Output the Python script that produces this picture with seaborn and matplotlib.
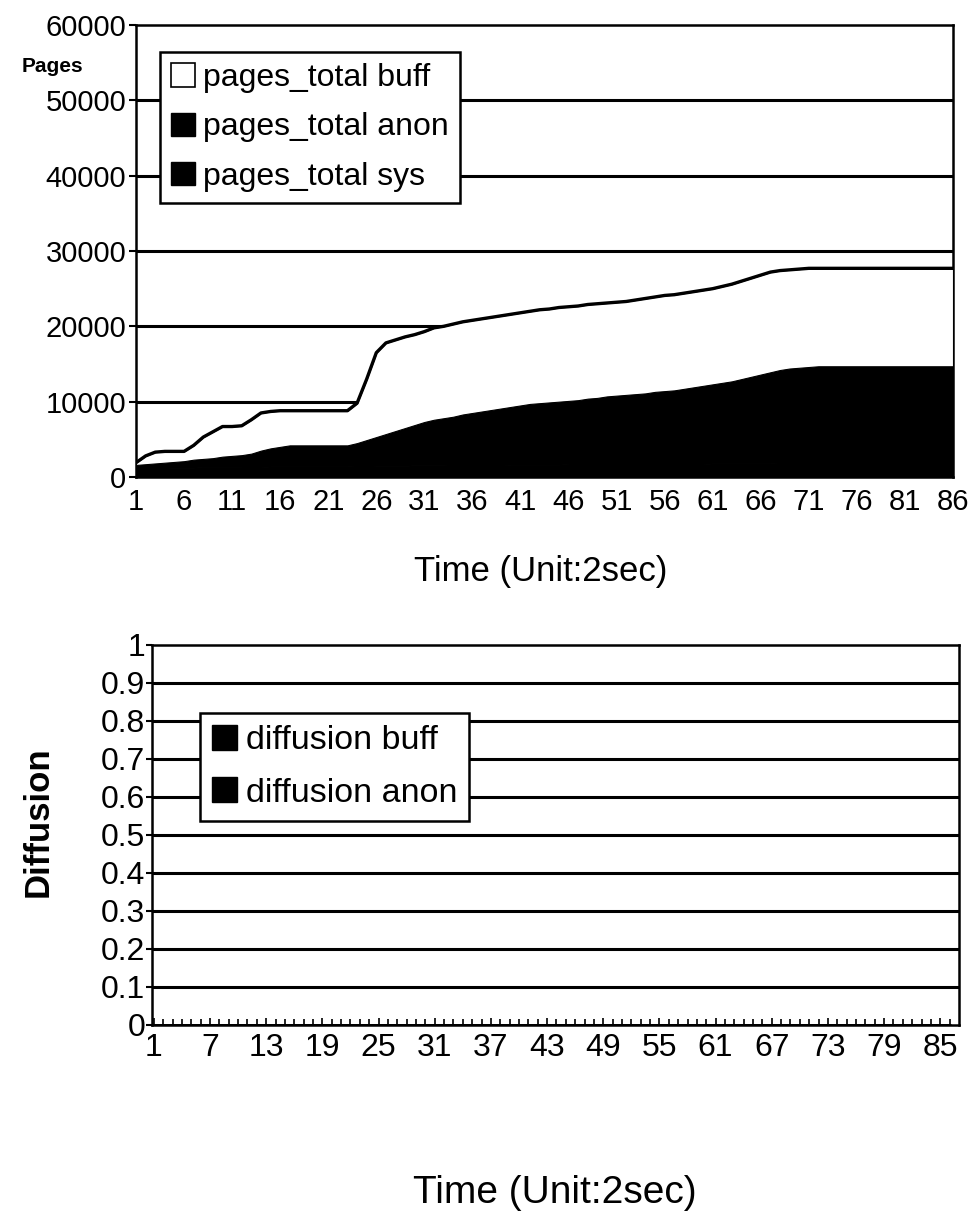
import matplotlib
matplotlib.use("Agg")
import matplotlib.pyplot as plt
import seaborn as sns
import pandas as pd
from matplotlib.patches import Patch
from matplotlib.ticker import FixedLocator

# ---------------- data ----------------
time = list(range(1, 87))

pages_sys = [1200, 1200, 1200, 1200, 1250, 1250, 1250, 1300, 1300, 1300,
             1300, 1300, 1350, 1350, 1400, 1400, 1400, 1400, 1400, 1400,
             1400, 1400, 1400, 1450, 1450, 1500, 1500, 1500, 1500, 1550,
             1550, 1550, 1550, 1600, 1600, 1600, 1600, 1600, 1600, 1650,
             1650, 1650, 1650, 1650, 1650, 1700, 1700, 1700, 1700, 1700,
             1700, 1700, 1700, 1750, 1750, 1750, 1750, 1750, 1750, 1750,
             1800, 1800, 1800, 1800, 1800, 1800, 1800, 1850, 1850, 1850,
             1850, 1850, 1850, 1850, 1850, 1850, 1850, 1850, 1850, 1850,
             1850, 1850, 1850, 1850, 1850, 1850]

pages_anon = [400, 500, 600, 700, 750, 850, 1050, 1100, 1200, 1400,
              1500, 1600, 1750, 2150, 2400, 2600, 2800, 2800, 2800, 2800,
              2800, 2800, 2800, 3050, 3450, 3800, 4200, 4600, 5000, 5350,
              5750, 6050, 6250, 6400, 6700, 6900, 7100, 7300, 7500, 7650,
              7850, 8050, 8150, 8250, 8350, 8400, 8500, 8700, 8800, 9000,
              9100, 9200, 9300, 9350, 9550, 9650, 9750, 9950, 10150, 10350,
              10500, 10700, 10900, 11200, 11500, 11800, 12100, 12350, 12550, 12650,
              12750, 12850, 12850, 12850, 12850, 12850, 12850, 12850, 12850, 12850,
              12850, 12850, 12850, 12850, 12850, 12850]

pages_buff = [300, 1100, 1500, 1500, 1400, 1300, 1900, 2900, 3500, 4000,
              3900, 3900, 4500, 5000, 4900, 4800, 4600, 4600, 4600, 4600,
              4600, 4600, 4600, 5300, 8100, 11200, 12100, 12100, 12100, 12000,
              12000, 12200, 12200, 12300, 12300, 12300, 12300, 12300, 12300, 12300,
              12300, 12300, 12400, 12400, 12500, 12500, 12500, 12500, 12500, 12400,
              12400, 12400, 12500, 12600, 12600, 12700, 12700, 12700, 12700, 12700,
              12700, 12800, 12900, 13000, 13100, 13200, 13300, 13200, 13100, 13100,
              13100, 13000, 13000, 13000, 13000, 13000, 13000, 13000, 13000, 13000,
              13000, 13000, 13000, 13000, 13000, 13000]

diffusion_buff = [0.0] * 86
diffusion_anon = [0.0] * 86

top_yticks = [0, 10000, 20000, 30000, 40000, 50000, 60000]
top_xticks = [1, 6, 11, 16, 21, 26, 31, 36, 41, 46, 51, 56, 61, 66, 71, 76, 81, 86]
bot_yticks = [0, 0.1, 0.2, 0.3, 0.4, 0.5, 0.6, 0.7, 0.8, 0.9, 1]
bot_ytick_labels = ["0", "0.1", "0.2", "0.3", "0.4", "0.5", "0.6", "0.7", "0.8", "0.9", "1"]
bot_xticks = [1, 7, 13, 19, 25, 31, 37, 43, 49, 55, 61, 67, 73, 79, 85]

# ---------------- style ----------------
sns.set_theme(style="white")
plt.rcParams['font.family'] = ['Liberation Sans', 'DejaVu Sans']
plt.rcParams['text.color'] = 'black'
plt.rcParams['xtick.color'] = 'black'
plt.rcParams['ytick.color'] = 'black'
plt.rcParams['axes.labelcolor'] = 'black'

W, H = 979, 1214
fig = plt.figure(figsize=(W / 100, H / 100), dpi=100)

def frac_box(l, t, r, b):
    return [l / W, 1 - b / H, (r - l) / W, (b - t) / H]

FS = 21
GRID_LW = 2.2

# ---------------- top chart ----------------
ax1 = fig.add_axes(frac_box(136, 25, 953, 477))
ax1.stackplot(time, pages_sys, pages_anon, pages_buff,
              colors=["black", "black", "white"],
              edgecolor="black", linewidth=0.8, zorder=3)
df_top = pd.DataFrame({"time": time, "sys": pages_sys, "anon": pages_anon, "buff": pages_buff})
df_top["total"] = df_top["sys"] + df_top["anon"] + df_top["buff"]
sns.lineplot(data=df_top, x="time", y="total", color="black", linewidth=2.4, ax=ax1, zorder=4)

ax1.set_xlim(1, 86)
ax1.set_ylim(0, 60000)
ax1.yaxis.set_major_locator(FixedLocator(top_yticks))
ax1.xaxis.set_major_locator(FixedLocator(top_xticks))
ax1.set_yticklabels([str(v) for v in top_yticks])
ax1.set_xticklabels([str(v) for v in top_xticks])
for y in top_yticks[1:-1]:
    ax1.axhline(y, color="black", linewidth=GRID_LW, zorder=1)
for s in ax1.spines.values():
    s.set_color("black")
    s.set_linewidth(1.8)
    s.set_visible(True)
ax1.tick_params(axis="y", which="major", direction="out", length=5, width=1.5,
                color="black", labelsize=FS, pad=2, left=True)
ax1.tick_params(axis="x", which="major", direction="out", length=0,
                labelsize=FS, pad=8, bottom=True)
ax1.set_xlabel("")
ax1.set_ylabel("")

leg1_handles = [Patch(facecolor="white", edgecolor="black", linewidth=1.2, label="pages_total buff"),
                Patch(facecolor="black", edgecolor="black", label="pages_total anon"),
                Patch(facecolor="black", edgecolor="black", label="pages_total sys")]
leg1 = ax1.legend(handles=leg1_handles, loc="upper left", bbox_to_anchor=(0.029, 0.94),
                  borderaxespad=0, fontsize=23, frameon=True, fancybox=False,
                  handlelength=0.75, handleheight=0.75, handletextpad=0.25,
                  labelspacing=0.6, borderpad=0.35)
leg1.get_frame().set_edgecolor("black")
leg1.get_frame().set_linewidth(1.8)
leg1.get_frame().set_alpha(1)
leg1.set_zorder(10)

fig.text(22 / W, 1 - 66 / H, "Pages", fontsize=15, fontweight="bold", ha="left", va="center")
fig.text(541 / W, 1 - 572 / H, "Time (Unit:2sec)", fontsize=25, ha="center", va="center")

# ---------------- bottom chart ----------------
ax2 = fig.add_axes(frac_box(152, 645, 959, 1025))
df_bot = pd.DataFrame({"time": time, "buff": diffusion_buff, "anon": diffusion_anon})
sns.lineplot(data=df_bot, x="time", y="buff", color="black", linewidth=2.0, ax=ax2, zorder=4)
sns.lineplot(data=df_bot, x="time", y="anon", color="black", linewidth=2.0, ax=ax2, zorder=4)

ax2.set_xlim(0.8, 87)
ax2.set_ylim(0, 1)
ax2.yaxis.set_major_locator(FixedLocator(bot_yticks))
ax2.set_yticklabels(bot_ytick_labels)
ax2.xaxis.set_major_locator(FixedLocator(bot_xticks))
ax2.set_xticklabels([str(v) for v in bot_xticks])
ax2.xaxis.set_minor_locator(FixedLocator(time))
for y in bot_yticks[1:-1]:
    ax2.axhline(y, color="black", linewidth=GRID_LW, zorder=1)
for s in ax2.spines.values():
    s.set_color("black")
    s.set_linewidth(1.8)
    s.set_visible(True)
ax2.tick_params(axis="y", which="major", direction="out", length=4, width=1.5,
                color="black", labelsize=FS + 2, pad=1, left=True)
ax2.tick_params(axis="x", which="major", direction="in", length=5, width=1.2,
                color="black", labelsize=FS + 2, pad=6, bottom=True)
ax2.tick_params(axis="x", which="minor", direction="in", length=4, width=1.2,
                color="black", bottom=True)
ax2.set_xlabel("")
ax2.set_ylabel("")

leg2_handles = [Patch(facecolor="black", edgecolor="black", label="diffusion buff"),
                Patch(facecolor="black", edgecolor="black", label="diffusion anon")]
leg2 = ax2.legend(handles=leg2_handles, loc="upper left", bbox_to_anchor=(0.059, 0.821),
                  borderaxespad=0, fontsize=24.5, frameon=True, fancybox=False,
                  handlelength=0.75, handleheight=0.75, handletextpad=0.25,
                  labelspacing=0.62, borderpad=0.35)
leg2.get_frame().set_edgecolor("black")
leg2.get_frame().set_linewidth(1.8)
leg2.get_frame().set_alpha(1)
leg2.set_zorder(10)

fig.text(38 / W, 1 - 822 / H, "Diffusion", fontsize=25, fontweight="bold",
         rotation=90, ha="center", va="center")
fig.text(555 / W, 1 - 1193 / H, "Time (Unit:2sec)", fontsize=28, ha="center", va="center")

fig.savefig("out.png", dpi=100, facecolor="white")
